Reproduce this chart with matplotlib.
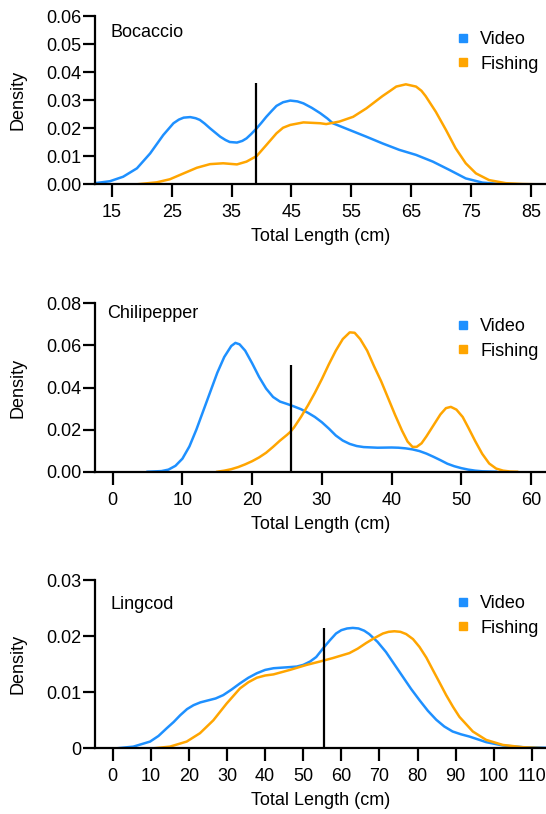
import matplotlib
matplotlib.use("Agg")
import matplotlib.pyplot as plt
from matplotlib.lines import Line2D

plt.rcParams['font.family'] = ['Liberation Sans', 'DejaVu Sans']

BLUE = '#1E90FF'
ORANGE = '#FFA500'

# ---- Bocaccio ----
boc_video_x = [12.2, 14.7, 16.9, 19.2, 21.4, 23.6, 25.3, 26.2, 27.0, 28.1, 29.0, 29.7, 30.5, 31.4,
               33.1, 34.0, 34.7, 35.9, 36.8, 37.5, 38.3, 39.2, 40.0, 40.8, 41.7, 42.5, 43.6, 44.8,
               46.0, 47.0, 48.4, 49.8, 51.0, 51.9, 54.7, 57.5, 60.2, 63.0, 65.8, 68.6, 71.4, 74.1,
               76.9, 79.7, 82.0]
boc_video_y = [0.0004, 0.0011, 0.0027, 0.0057, 0.011, 0.0176, 0.0218, 0.0231, 0.0238, 0.024, 0.0236,
               0.023, 0.0217, 0.020, 0.017, 0.0158, 0.0151, 0.0149, 0.0155, 0.0164, 0.018, 0.020,
               0.022, 0.0241, 0.0262, 0.028, 0.0293, 0.0299, 0.0296, 0.0289, 0.0273, 0.0254, 0.0235,
               0.0218, 0.0194, 0.017, 0.0146, 0.0123, 0.0105, 0.0081, 0.0051, 0.0021, 0.0006,
               0.0001, 0.0]
boc_fish_x = [19.2, 22.5, 24.7, 27.0, 29.2, 31.4, 33.6, 35.9, 37.5, 39.2, 40.8, 42.5, 43.6, 44.8,
              47.0, 49.8, 50.8, 53.0, 55.3, 57.5, 60.2, 61.5, 62.5, 64.1, 65.8, 66.7, 67.4, 69.1,
              70.8, 72.4, 74.1, 75.8, 78.0, 80.8, 83.6, 86.0]
boc_fish_y = [0.0, 0.0007, 0.0018, 0.0039, 0.0059, 0.0072, 0.0075, 0.0071, 0.0081, 0.0101, 0.014,
              0.0182, 0.0202, 0.0212, 0.0221, 0.0218, 0.0215, 0.0224, 0.0241, 0.0271, 0.0315,
              0.0334, 0.0349, 0.0357, 0.0349, 0.0334, 0.0315, 0.0259, 0.0194, 0.0129, 0.0075,
              0.0039, 0.0015, 0.0004, 0.0001, 0.0]
boc_cut = 39.0
boc_cut_top = 0.0361

# ---- Chilipepper ----
chi_video_x = [5, 7, 8, 9, 10, 11, 12, 13, 14, 15, 16, 17, 17.6, 18.2, 19, 20, 21, 22, 23, 24, 25,
               26, 27, 28, 29, 30, 31, 32, 33, 34, 35, 36, 38, 40, 41, 42, 43, 44, 45, 46, 47, 48,
               49, 50, 51, 52, 53, 55]
chi_video_y = [0.0, 0.0003, 0.001, 0.0028, 0.0062, 0.012, 0.020, 0.029, 0.038, 0.047, 0.0545,
               0.0597, 0.0612, 0.0605, 0.0575, 0.0515, 0.045, 0.0395, 0.0355, 0.0333, 0.0322,
               0.031, 0.0297, 0.028, 0.026, 0.0235, 0.0205, 0.0172, 0.0148, 0.0132, 0.0122, 0.0117,
               0.0114, 0.0115, 0.0114, 0.0111, 0.0106, 0.0098, 0.0086, 0.0071, 0.0055, 0.0038,
               0.0026, 0.0017, 0.001, 0.0005, 0.0002, 0.0]
chi_fish_x = [15, 16, 17, 18, 19, 20, 21, 22, 23, 24, 25, 25.5, 26, 27, 28, 29, 30, 31, 32, 33, 34,
              34.7, 35.5, 36.5, 37.5, 38.5, 39.5, 40.5, 41.5, 42.3, 43, 43.6, 44.3, 45, 46, 47,
              47.8, 48.5, 49.3, 50.2, 51, 52, 53, 54, 55, 56, 57, 58]
chi_fish_y = [0.0, 0.0005, 0.0012, 0.0022, 0.0035, 0.005, 0.0068, 0.009, 0.0118, 0.0148, 0.0175,
              0.019, 0.021, 0.026, 0.0315, 0.0375, 0.044, 0.051, 0.0575, 0.063, 0.0662, 0.066,
              0.063, 0.0575, 0.050, 0.043, 0.035, 0.027, 0.0195, 0.0143, 0.0118, 0.0118, 0.0135,
              0.0168, 0.022, 0.0272, 0.0302, 0.0308, 0.0295, 0.026, 0.021, 0.0145, 0.0085, 0.0039,
              0.0015, 0.0005, 0.0001, 0.0]
chi_cut = 25.6
chi_cut_top = 0.0507

# ---- Lingcod ----
lin_video_x = [1.0, 5.4, 9.8, 12.0, 14.2, 16.0, 17.7, 19.5, 21.2, 23.0, 24.7, 27.0, 29.0, 31.2,
               33.4, 35.6, 37.8, 40.0, 42.2, 44.3, 46.5, 48.3, 50.0, 51.8, 53.4, 55.5, 57.0, 58.6,
               60.0, 61.5, 63.0, 64.5, 66.0, 67.3, 69.5, 71.7, 73.9, 76.1, 78.3, 80.5, 82.7, 84.9,
               87.0, 89.2, 91.4, 93.6, 98.0, 102.4, 107.6, 113.7]
lin_video_y = [0.0, 0.0003, 0.0012, 0.0022, 0.0036, 0.0047, 0.0059, 0.0070, 0.0077, 0.0082,
               0.0085, 0.0089, 0.0095, 0.0105, 0.0116, 0.0126, 0.0134, 0.0140, 0.0143, 0.0144,
               0.0145, 0.0146, 0.0149, 0.0155, 0.0163, 0.0181, 0.0193, 0.0205, 0.0211, 0.0214,
               0.0215, 0.0214, 0.0210, 0.0204, 0.0190, 0.0172, 0.0150, 0.0128, 0.0106, 0.0086,
               0.0067, 0.0051, 0.0039, 0.0030, 0.0025, 0.0021, 0.0011, 0.0005, 0.0002, 0.0001]
lin_fish_x = [10.7, 15.0, 19.4, 22.9, 26.4, 29.9, 33.4, 35.6, 37.8, 40.0, 42.2, 46.5, 50.9, 54.4,
              57.7, 62.1, 64.3, 66.5, 68.7, 70.9, 72.4, 73.9, 75.5, 77.0, 78.8, 80.5, 82.3, 84.0,
              85.8, 87.5, 89.3, 91.0, 94.5, 98.0, 102.4, 107.6, 113.7]
lin_fish_y = [0.0, 0.0003, 0.0012, 0.0027, 0.005, 0.008, 0.0107, 0.0118, 0.0126, 0.0130, 0.0132,
              0.014, 0.0149, 0.0155, 0.0161, 0.017, 0.0178, 0.0188, 0.0197, 0.0205, 0.0208, 0.0209,
              0.0208, 0.0204, 0.0195, 0.0181, 0.0162, 0.014, 0.0117, 0.0095, 0.0074, 0.0056,
              0.003, 0.0015, 0.0006, 0.0002, 0.0]
lin_cut = 55.5
lin_cut_top = 0.0214

panels = [
    dict(name='Bocaccio', vx=boc_video_x, vy=boc_video_y, fx=boc_fish_x, fy=boc_fish_y,
         cut=boc_cut, top=boc_cut_top, xlim=(12.2, 87.5), xticks=list(range(15, 86, 10)),
         ylim=0.06, yticks=[0, 0.01, 0.02, 0.03, 0.04, 0.05, 0.06],
         ylabels=['0.00', '0.01', '0.02', '0.03', '0.04', '0.05', '0.06'],
         pos=[0.174, 0.7736, 0.826, 0.2064], title_xy=(0.035, 0.905)),
    dict(name='Chilipepper', vx=chi_video_x, vy=chi_video_y, fx=chi_fish_x, fy=chi_fish_y,
         cut=chi_cut, top=chi_cut_top, xlim=(-2.54, 62.15), xticks=list(range(0, 61, 10)),
         ylim=0.08, yticks=[0, 0.02, 0.04, 0.06, 0.08],
         ylabels=['0.00', '0.02', '0.04', '0.06', '0.08'],
         pos=[0.174, 0.4205, 0.826, 0.2069], title_xy=(0.027, 0.937)),
    dict(name='Lingcod', vx=lin_video_x, vy=lin_video_y, fx=lin_fish_x, fy=lin_fish_y,
         cut=lin_cut, top=lin_cut_top, xlim=(-4.65, 113.7), xticks=list(range(0, 111, 10)),
         ylim=0.03, yticks=[0, 0.01, 0.02, 0.03],
         ylabels=['0', '0.01', '0.02', '0.03'],
         pos=[0.174, 0.0807, 0.826, 0.2064], title_xy=(0.035, 0.858)),
]

fig = plt.figure(figsize=(5.46, 8.14), dpi=100)

for p in panels:
    ax = fig.add_axes(p['pos'])
    ax.plot(p['vx'], p['vy'], color=BLUE, lw=1.8, solid_joinstyle='round')
    ax.plot(p['fx'], p['fy'], color=ORANGE, lw=1.8, solid_joinstyle='round')
    ax.vlines(p['cut'], 0, p['top'], color='black', lw=1.6)

    ax.set_xlim(*p['xlim'])
    ax.set_ylim(0, p['ylim'])
    ax.set_xticks(p['xticks'])
    ax.set_yticks(p['yticks'])
    ax.set_yticklabels(p['ylabels'])

    for s in ['top', 'right']:
        ax.spines[s].set_visible(False)
    for s in ['left', 'bottom']:
        ax.spines[s].set_linewidth(1.6)
    ax.tick_params(axis='both', length=9, width=1.6, labelsize=13, direction='out')
    ax.tick_params(axis='x', pad=5.5)
    ax.tick_params(axis='y', pad=1)

    ax.set_ylabel('Density', fontsize=13, labelpad=14)
    ax.set_xlabel('Total Length (cm)', fontsize=13, labelpad=5)

    ax.text(p['title_xy'][0], p['title_xy'][1], p['name'], transform=ax.transAxes,
            fontsize=13, ha='left', va='center')

    handles = [Line2D([], [], marker='s', color=BLUE, ls='none', markersize=5.2),
               Line2D([], [], marker='s', color=ORANGE, ls='none', markersize=5.2)]
    ax.legend(handles, ['Video', 'Fishing'], loc='upper right', bbox_to_anchor=(0.984, 0.91),
              frameon=False, fontsize=13, borderpad=0, borderaxespad=0, labelspacing=0.4,
              handlelength=1.0, handletextpad=0.44)

fig.savefig('out.png', dpi=100)
